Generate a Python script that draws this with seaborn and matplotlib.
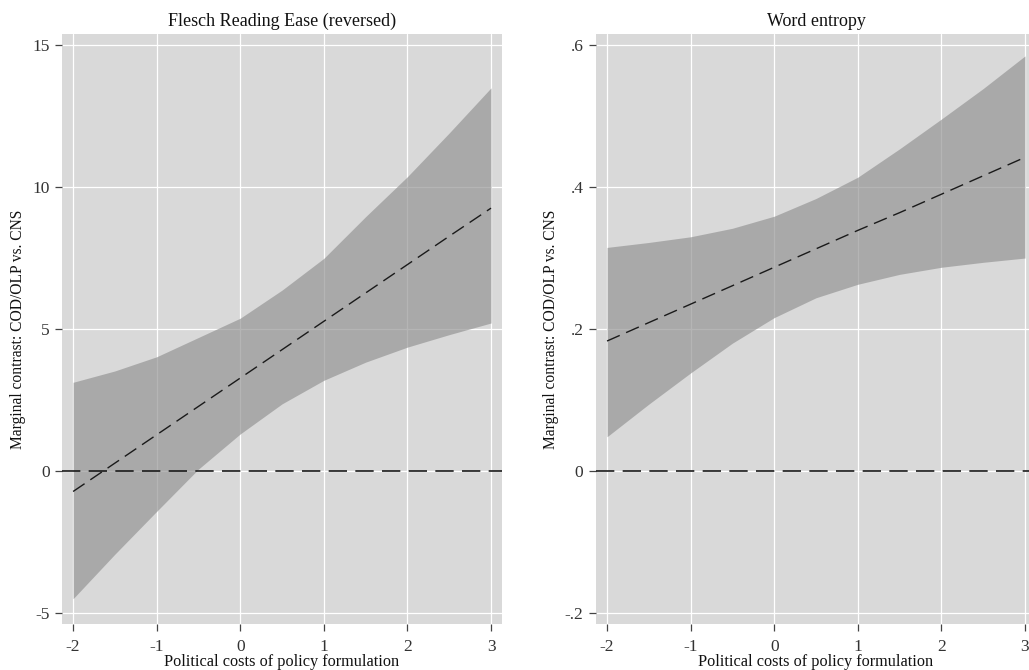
import numpy as np
import pandas as pd
import matplotlib
matplotlib.use("Agg")
import matplotlib.pyplot as plt
import seaborn as sns

# valeurs
x_pts = [-2, -1.5, -1, -0.5, 0, 0.5, 1, 1.5, 2, 2.5, 3]

# Flesch Reading Ease (reversed)
flesch_hi = [3.12, 3.52, 4.02, 4.70, 5.38, 6.37, 7.49, 8.96, 10.37, 11.91, 13.5]
flesch_lo = [-4.51, -2.94, -1.43, 0.06, 1.30, 2.36, 3.19, 3.83, 4.36, 4.80, 5.21]
flesch_mid = [-0.73, 0.27, 1.27, 2.27, 3.27, 4.27, 5.27, 6.27, 7.27, 8.27, 9.26]

# Word entropy
entropy_hi = [0.315, 0.322, 0.330, 0.342, 0.359, 0.384, 0.414, 0.454, 0.496, 0.539, 0.585]
entropy_lo = [0.048, 0.094, 0.138, 0.180, 0.216, 0.244, 0.263, 0.277, 0.287, 0.294, 0.300]
entropy_mid = [0.183, 0.209, 0.235, 0.261, 0.287, 0.313, 0.339, 0.364, 0.390, 0.416, 0.442]

titres = ["Flesch Reading Ease (reversed)", "Word entropy"]
yticks_flesch = [-5, 0, 5, 10, 15]
ylabels_flesch = ["-5", "0", "5", "10", "15"]
yticks_entropy = [-0.2, 0, 0.2, 0.4, 0.6]
ylabels_entropy = ["-.2", "0", ".2", ".4", ".6"]
xticks = [-2, -1, 0, 1, 2, 3]

sns.set_style("darkgrid", {
    "axes.facecolor": "#d9d9d9",
    "grid.color": "white",
    "xtick.bottom": True,
    "ytick.left": True,
    "axes.edgecolor": "#d9d9d9",
})
plt.rcParams["font.family"] = ["Liberation Serif", "DejaVu Serif"]

fig = plt.figure(figsize=(10.29, 6.70), dpi=100)
ax1 = fig.add_axes([0.0603, 0.0687, 0.4276, 0.8806])
ax2 = fig.add_axes([0.5792, 0.0687, 0.4276, 0.8806])

panneaux = [
    (ax1, flesch_lo, flesch_hi, flesch_mid, yticks_flesch, ylabels_flesch, (-5.4, 15.4)),
    (ax2, entropy_lo, entropy_hi, entropy_mid, yticks_entropy, ylabels_entropy, (-0.216, 0.616)),
]

for i, (ax, lo, hi, mid, yt, yl, ylim) in enumerate(panneaux):
    df = pd.DataFrame({"x": x_pts, "lo": lo, "hi": hi, "mid": mid})
    ax.fill_between(df["x"], df["lo"], df["hi"], color="#939393", alpha=0.68, lw=0, zorder=2)
    sns.lineplot(data=df, x="x", y="mid", ax=ax, color="#1a1a1a", lw=1.0, zorder=3)
    ax.lines[-1].set_dashes((10, 5))
    ax.axhline(0, color="#1a1a1a", lw=1.2, dashes=(11, 5), zorder=3)

    ax.set_xlim(-2.132, 3.132)
    ax.set_ylim(*ylim)
    ax.set_xticks(xticks)
    ax.set_xticklabels([str(v) for v in xticks])
    ax.set_yticks(yt)
    ax.set_yticklabels(yl)
    ax.tick_params(axis="both", colors="#444444", labelcolor="#333333",
                   labelsize=12.5, length=5, width=0.9, pad=4)
    ax.tick_params(axis="x", pad=6)
    for s in ax.spines.values():
        s.set_visible(False)
    ax.set_title(titres[i], fontsize=13, color="#111111", pad=6)
    ax.set_xlabel("Political costs of policy formulation", fontsize=11.7, color="#111111", labelpad=-1)
    ax.set_ylabel("Marginal contrast: COD/OLP vs. CNS", fontsize=11.2, color="#111111")
    ax.yaxis.set_label_coords(-0.083, 0.5)
    ax.grid(True, color="white", lw=0.9, zorder=0)
    ax.set_axisbelow(True)

fig.savefig("out.png", dpi=100)
